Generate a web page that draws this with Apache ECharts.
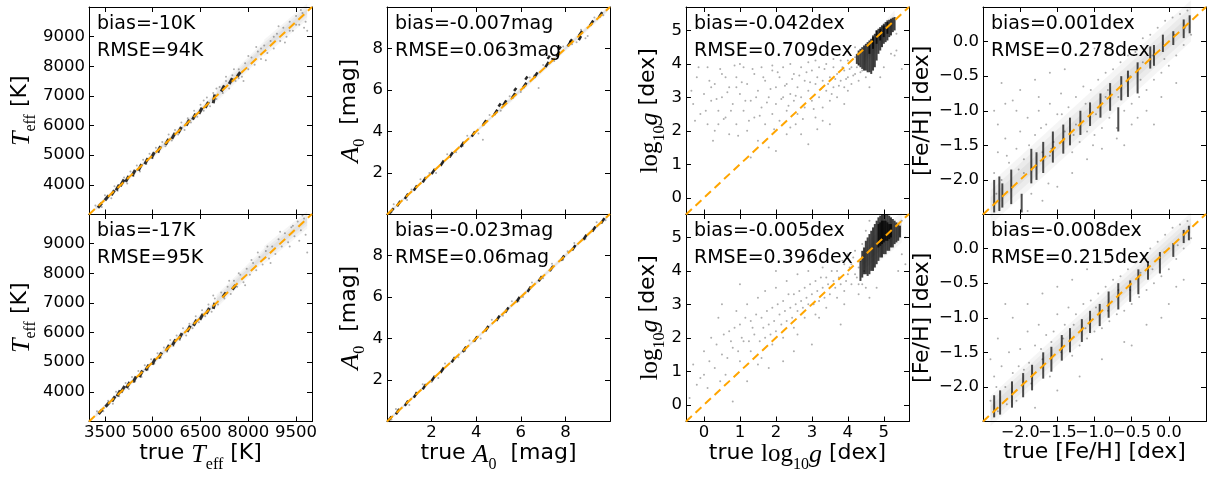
<!DOCTYPE html>
<html><head><meta charset="utf-8">
<script src="https://cdn.jsdelivr.net/npm/echarts@6/dist/echarts.min.js"></script>
<style>html,body{margin:0;padding:0;background:#fff}#c{width:1209px;height:477px}</style>
</head><body><div id="c"></div>
<script>
// ---------- tick labels ----------
const teffXTicks = [3500, 5000, 6500, 8000, 9500];
const teffYTicks = [4000, 5000, 6000, 7000, 8000, 9000];
const a0Ticks = [2, 4, 6, 8];
const loggTicks = [0, 1, 2, 3, 4, 5];
const fehTicks = [-2.0, -1.5, -1.0, -0.5, 0.0];

// ---------- statistics text ----------
const biasTop = ['-10K', '-0.007mag', '-0.042dex', '0.001dex'];
const rmseTop = ['94K', '0.063mag', '0.709dex', '0.278dex'];
const biasBot = ['-17K', '-0.023mag', '-0.005dex', '-0.008dex'];
const rmseBot = ['95K', '0.06mag', '0.396dex', '0.215dex'];

// ---------- Teff (true, predicted) ----------
// dense bands: [x1, y1, x2, y2, half-spread]
const teffTopCloud = [[3200,3200,5000,5000,90],[5000,5000,7000,7020,120],[7000,7020,8500,8620,230],[8500,8620,9850,9850,280]];
const teffBotCloud = [[3200,3200,5000,5000,90],[5000,5000,7000,7020,120],[7000,7050,8500,8620,230],[8500,8620,9850,9800,300]];
const teffTopStreaks = [[3280,3230,3400,3380],[3500,3480,3620,3640],[3700,3650,3800,3820],[3850,3820,3950,4000],[3980,3950,4100,4180],[4150,4100,4250,4300],[4350,4300,4450,4500],[4550,4480,4650,4700],[4750,4700,4850,4900],[4950,4900,5050,5100],[5150,5100,5250,5300],[5400,5350,5500,5550],[5600,5550,5700,5750],[5800,5750,5900,5950],[6050,6000,6150,6200],[6250,6200,6350,6400],[6450,6400,6550,6600],[6650,6600,6750,6800],[6900,6750,6950,7050],[7150,7150,7250,7350],[7400,7400,7500,7600],[7650,7650,7750,7800]];
const teffTopPts = [[3200,3300],[3400,3250],[3500,3650],[3700,3550],[3800,3950],[3900,3800],[4100,4250],[4200,4050],[4300,4450],[4400,4300],[4500,4650],[4600,4450],[4700,4850],[4800,4700],[4900,5050],[5000,4900],[5100,5250],[5200,5100],[5300,5450],[5400,5300],[5500,5700],[5600,5500],[5700,5850],[5800,5700],[5900,6100],[6000,5850],[6100,6250],[6200,6100],[6300,6500],[6400,6300],[6500,6700],[6600,6500],[6700,6950],[6800,6650],[6900,7100],[7000,6900],[7100,7300],[7200,7100],[7300,7500],[7400,7250],[7500,7700],[7600,7500],[7700,7900],[7800,7650],[7900,8100],[8000,7900],[8100,8300],[8200,8050],[8300,8500],[8400,8250],[8500,8700],[8600,8450],[8700,8850],[8800,8600],[8900,9100],[9000,8850],[9100,9300],[9200,9000],[9300,9500],[9400,9200],[9500,9700],[9600,9400],[9700,9800],[9800,9500],[9850,9200],[9300,9200],[8400,8600],[7000,7250],[6600,6850],[7700,7600],[8800,9000],[9500,9400],[7300,7650],[8000,8350],[7550,7900],[8250,8650],[8950,9350],[9650,9900],[7850,7500],[8550,8200],[9150,8800],[9750,9300]];
const teffBotStreaks = [[3300,3250,3420,3400],[3520,3500,3640,3650],[3720,3680,3820,3850],[3880,3850,3980,4050],[4000,3980,4120,4200],[4180,4130,4280,4330],[4380,4320,4480,4520],[4580,4500,4680,4720],[4780,4720,4880,4920],[4980,4920,5080,5120],[5180,5130,5280,5330],[5420,5380,5520,5580],[5620,5570,5720,5770],[5820,5780,5920,5980],[6080,6030,6180,6230],[6280,6230,6380,6430],[6480,6430,6580,6630],[6680,6630,6780,6830],[6900,6800,6950,7000],[7200,7200,7300,7350],[7500,7450,7600,7600]];
const teffBotPts = [[3250,3350],[3450,3350],[3600,3700],[3750,3600],[3850,4000],[3950,3850],[4150,4300],[4250,4100],[4350,4500],[4450,4350],[4550,4700],[4650,4500],[4750,4900],[4850,4750],[4950,5100],[5050,4950],[5150,5300],[5250,5150],[5350,5500],[5450,5350],[5550,5750],[5650,5550],[5750,5900],[5850,5750],[5950,6150],[6050,5900],[6150,6300],[6250,6150],[6350,6550],[6450,6350],[6550,6750],[6650,6550],[6750,6950],[6850,6700],[6950,7150],[7050,6950],[7150,7350],[7250,7150],[7350,7550],[7450,7300],[7550,7750],[7650,7550],[7750,7950],[7850,7700],[7950,8150],[8050,7950],[8150,8350],[8250,8100],[8350,8550],[8450,8300],[8550,8750],[8650,8500],[8750,8900],[8850,8650],[8950,9150],[9050,8900],[9150,9350],[9250,9050],[9350,9550],[9450,9250],[9550,9750],[9650,9450],[9750,9850],[9800,9300],[9600,9100],[8100,8450],[7700,8000],[6900,7250],[8600,8900],[9400,9600],[7400,7750],[8300,8700],[9000,9400],[9700,9950],[7900,7600],[8700,8350],[9300,8900],[9850,8700]];

// ---------- A0 (true, predicted) ----------
const a0TopCloud = [[0,0,5,5,0.1],[5,5,9.9,9.9,0.14]];
const a0BotCloud = [[0,0,5,5,0.1],[5,5,9.9,9.9,0.12]];
const a0TopStreaks = [[0.1,0.05,0.3,0.3],[0.45,0.4,0.6,0.65],[0.8,0.75,0.95,1.0],[1.2,1.15,1.35,1.4],[1.6,1.55,1.75,1.8],[2.0,1.95,2.15,2.2],[2.4,2.35,2.55,2.6],[2.8,2.75,2.95,3.0],[3.3,3.25,3.45,3.5],[3.8,3.75,3.95,4.0],[4.3,4.3,4.45,4.55],[4.8,4.8,4.95,5.05],[5.2,5.25,5.35,5.5],[5.6,5.6,5.75,5.85],[6.1,6.1,6.25,6.35],[6.6,6.6,6.75,6.85],[7.1,7.1,7.25,7.35],[7.6,7.6,7.75,7.85],[8.1,8.1,8.25,8.35],[8.6,8.6,8.75,8.85],[9.1,9.1,9.25,9.35],[9.5,9.5,9.65,9.75],[5.0,5.2,5.1,5.35],[5.7,5.95,5.8,6.1],[6.2,6.5,6.3,6.65],[7.2,7.5,7.3,7.65],[7.7,7.95,7.8,8.1],[8.2,8.3,8.3,8.45],[8.6,8.4,8.7,8.6]];
const a0TopPts = [[0.3,0.5],[0.9,0.7],[1.5,1.7],[2.2,2.0],[2.7,2.9],[3.1,3.0],[3.6,3.8],[4.1,3.9],[4.6,4.8],[5.1,5.0],[5.5,5.7],[6.0,5.9],[6.4,6.6],[6.8,6.1],[7.0,7.2],[7.5,7.4],[7.9,8.1],[8.3,8.2],[8.7,8.9],[9.0,8.6],[9.3,9.5],[9.7,9.6],[4.3,3.6],[8.5,8.3],[8.9,8.5],[0.2,0.1],[1.1,1.2],[1.9,2.0],[3.4,3.3],[6.6,6.7]];
const a0BotStreaks = [[0.05,0.0,0.2,0.25],[0.4,0.35,0.55,0.6],[0.8,0.75,0.95,1.0],[1.2,1.15,1.35,1.4],[1.6,1.55,1.75,1.8],[2.0,1.95,2.15,2.2],[2.4,2.35,2.55,2.6],[2.9,2.85,3.05,3.1],[3.4,3.35,3.55,3.6],[3.9,3.85,4.05,4.1],[4.4,4.35,4.55,4.6],[4.9,4.85,5.05,5.1],[5.3,5.25,5.45,5.5],[5.8,5.75,5.95,6.0],[6.3,6.25,6.45,6.5],[6.8,6.75,6.95,7.0],[7.3,7.25,7.45,7.5],[7.8,7.75,7.95,8.0],[8.3,8.25,8.45,8.5],[8.8,8.75,8.95,9.0],[9.2,9.15,9.35,9.4],[9.6,9.55,9.75,9.8]];
const a0BotPts = [[0.4,0.6],[1.0,0.8],[1.6,1.8],[2.3,2.1],[2.6,2.8],[3.2,3.1],[3.7,3.9],[4.2,4.0],[4.7,4.9],[5.2,5.1],[5.6,5.8],[6.1,6.0],[6.5,6.7],[7.0,6.9],[7.4,7.6],[7.9,7.8],[8.4,8.6],[8.9,8.8],[9.4,9.6],[9.8,9.7],[0.2,0.1],[1.3,1.4],[2.0,1.9],[3.5,3.4],[5.9,5.8],[8.1,8.2]];

// ---------- log g (true, predicted) ----------
const loggTopCloud = [[4.45,4.25,5.3,5.3,0.3]];
const loggBotCloud = [[4.4,4.3,5.5,5.3,0.45]];
const loggTopStreaks = [[4.25,4.0,4.25,4.3],[4.3,3.95,4.3,4.4],[4.35,3.9,4.35,4.45],[4.4,3.85,4.4,4.5],[4.45,3.8,4.45,4.55],[4.5,3.8,4.5,4.6],[4.55,3.75,4.55,4.65],[4.6,3.75,4.6,4.7],[4.65,3.7,4.65,4.75],[4.7,3.8,4.7,4.85],[4.75,3.9,4.75,4.9],[4.8,4.1,4.8,5.0],[4.85,4.3,4.85,5.05],[4.9,4.4,4.9,5.1],[4.95,4.5,4.95,5.15],[5.0,4.6,5.0,5.2],[5.05,4.65,5.05,5.25],[5.1,4.7,5.1,5.3],[5.15,4.8,5.15,5.32],[5.2,4.85,5.2,5.35],[5.25,4.95,5.25,5.38],[5.3,5.0,5.3,5.4],[4.8,4.6,4.8,5.0],[4.9,4.7,4.9,5.05],[5.0,4.8,5.0,5.15],[5.1,4.9,5.1,5.25],[4.7,4.45,4.7,4.8],[4.6,4.3,4.6,4.6]];
const loggTopPts = [[-0.3,2.8],[-0.2,3.6],[-0.1,2.5],[0.0,3.1],[0.1,2.2],[0.1,3.9],[0.2,2.9],[0.3,3.4],[0.3,2.0],[0.4,2.6],[0.5,3.7],[0.5,3.0],[0.6,2.4],[0.7,3.3],[0.7,1.9],[0.8,2.8],[0.9,3.6],[0.9,2.2],[1.0,3.1],[1.1,2.6],[1.1,3.9],[1.2,2.0],[1.2,3.4],[1.3,2.9],[1.4,3.7],[1.4,2.4],[1.5,3.2],[1.6,2.7],[1.6,3.9],[1.7,2.2],[1.7,3.5],[1.8,3.0],[1.9,2.5],[1.9,3.8],[2.0,3.3],[2.0,2.8],[2.1,3.6],[2.1,2.3],[2.2,3.0],[2.2,3.9],[2.3,2.6],[2.3,3.4],[2.4,3.1],[2.4,2.1],[2.5,3.7],[2.5,2.9],[2.6,3.3],[2.6,2.5],[2.7,3.9],[2.7,3.0],[2.8,3.5],[2.8,2.7],[2.9,3.2],[2.9,1.6],[3.0,3.8],[3.0,2.9],[3.1,3.4],[3.1,2.4],[3.2,3.0],[3.2,3.9],[3.3,3.5],[3.3,2.7],[3.4,3.2],[3.4,4.0],[3.5,3.6],[3.5,2.9],[3.6,3.3],[3.6,3.9],[3.7,3.0],[3.7,3.7],[3.8,3.5],[3.8,4.1],[3.9,3.3],[3.9,3.8],[4.0,3.6],[4.0,4.1],[4.1,3.4],[4.1,3.9],[4.2,3.7],[4.2,4.2],[4.3,3.5],[4.3,4.0],[4.4,3.8],[2.0,1.4],[1.5,1.7],[3.5,2.2],[0.2,3.3],[1.0,4.0],[2.4,4.0],[3.1,4.1],[0.6,3.6],[4.2,4.5],[4.0,3.2],[4.6,3.3],[4.5,3.6],[5.0,3.9],[4.9,3.6],[5.2,4.3],[5.35,4.9],[5.35,4.4],[5.3,4.25],[5.5,3.85],[-0.35,3.2],[-0.25,2.3],[-0.15,3.9],[0.05,2.6],[0.15,3.5],[0.25,1.7],[0.35,2.95],[0.45,3.85],[0.55,2.35],[0.65,3.15],[0.75,2.6],[0.85,3.95],[0.95,1.85],[1.05,3.45],[1.15,2.9],[1.25,2.3],[1.35,3.85],[1.45,3.0],[1.55,2.45],[1.65,3.6],[1.75,2.85],[1.85,3.25],[1.95,2.05],[2.05,3.75],[2.15,2.95],[2.25,3.35],[2.35,2.75],[2.45,3.55],[2.55,3.05],[2.65,3.65],[2.75,2.35],[2.85,3.75],[2.95,3.45],[3.05,2.65],[3.15,3.6],[3.25,3.25],[3.35,3.85],[3.45,3.4],[3.55,3.1],[3.65,3.55],[3.75,3.35],[3.85,3.9],[3.95,3.55],[4.05,3.85],[4.15,3.65],[4.25,3.9],[4.35,3.75],[2.3,1.9],[1.8,1.5],[3.3,2.3],[2.7,1.9],[3.9,2.8],[0.9,3.3],[1.9,3.95],[2.9,4.05],[3.6,4.15],[0.4,2.2],[1.3,1.2],[2.55,2.2],[3.15,2.05]];
const loggBotStreaks = [[4.35,3.7,4.35,4.3],[4.4,3.8,4.4,4.6],[4.45,3.9,4.45,4.7],[4.5,3.9,4.5,4.9],[4.55,3.85,4.55,5.0],[4.6,3.9,4.6,5.1],[4.65,4.0,4.65,5.2],[4.7,4.0,4.7,5.3],[4.75,4.1,4.75,5.4],[4.8,4.2,4.8,5.5],[4.85,4.3,4.85,5.6],[4.9,4.4,4.9,5.65],[4.95,4.4,4.95,5.7],[5.0,4.5,5.0,5.7],[5.05,4.5,5.05,5.7],[5.1,4.6,5.1,5.7],[5.15,4.6,5.15,5.65],[5.2,4.7,5.2,5.6],[5.25,4.7,5.25,5.55],[5.3,4.8,5.3,5.5],[5.35,4.85,5.35,5.45],[5.4,4.9,5.4,5.4],[5.45,5.0,5.45,5.35],[4.85,4.7,4.85,5.4],[4.9,4.75,4.9,5.45],[4.95,4.8,4.95,5.5],[5.0,4.85,5.0,5.5],[5.05,4.9,5.05,5.5],[5.1,4.9,5.1,5.45],[5.15,4.95,5.15,5.4],[5.2,5.0,5.2,5.4]];
const loggBotPts = [[-0.4,0.2],[-0.3,1.2],[-0.1,0.8],[0.0,1.6],[0.1,0.5],[0.2,2.0],[0.3,1.1],[0.4,2.6],[0.5,1.5],[0.6,0.9],[0.7,2.2],[0.8,1.7],[0.9,2.8],[1.0,1.3],[1.0,2.4],[1.1,1.9],[1.2,3.0],[1.3,1.6],[1.3,2.5],[1.4,2.1],[1.5,3.2],[1.5,1.2],[1.6,2.6],[1.7,2.0],[1.7,3.4],[1.8,2.4],[1.9,1.8],[1.9,2.9],[2.0,2.2],[2.0,3.5],[2.1,2.7],[2.2,2.0],[2.2,3.1],[2.3,2.5],[2.3,3.7],[2.4,2.9],[2.5,2.3],[2.5,3.3],[2.6,2.8],[2.6,3.9],[2.7,3.1],[2.8,2.6],[2.8,3.5],[2.9,3.0],[2.9,4.0],[3.0,3.3],[3.1,2.7],[3.1,3.7],[3.2,3.1],[3.3,3.5],[3.3,4.1],[3.4,2.9],[3.4,3.8],[3.5,3.3],[3.6,3.7],[3.6,4.3],[3.7,3.2],[3.7,4.0],[3.8,3.6],[3.9,4.2],[3.9,3.4],[4.0,3.9],[4.0,4.5],[4.1,3.6],[4.1,4.2],[4.2,3.9],[4.2,4.6],[4.3,4.1],[4.4,3.6],[4.4,4.4],[1.2,0.7],[2.5,1.6],[3.8,2.4],[0.5,3.0],[1.0,3.6],[2.0,4.0],[4.6,3.2],[4.8,3.5],[5.4,4.0],[5.5,4.5],[3.0,1.8],[0.8,0.1],[1.8,1.1],[2.2,1.3],[4.5,5.2],[4.4,4.8],[5.6,5.0],[5.5,5.5],[4.6,5.5],[5.6,4.2],[4.3,3.3],[4.5,3.5],[-0.2,0.6],[0.0,0.9],[0.15,1.3],[0.35,1.8],[0.45,0.7],[0.55,2.1],[0.65,1.4],[0.75,1.9],[0.85,2.3],[0.95,1.6],[1.05,2.0],[1.15,2.6],[1.25,1.9],[1.35,2.3],[1.45,2.7],[1.55,1.9],[1.65,2.3],[1.75,2.8],[1.85,2.1],[1.95,2.5],[2.05,3.0],[2.15,2.4],[2.25,2.8],[2.35,3.3],[2.45,2.6],[2.55,3.0],[2.65,3.4],[2.75,2.9],[2.85,3.2],[2.95,3.6],[3.05,3.0],[3.15,3.4],[3.25,3.8],[3.35,3.2],[3.45,3.6],[3.55,4.0],[3.65,3.5],[3.75,3.8],[3.85,4.3],[3.95,3.7],[4.05,4.1],[4.15,4.4],[4.25,3.8],[4.35,4.3],[4.45,4.0],[2.6,2.1],[3.2,2.6],[1.6,1.4],[3.9,3.0],[4.3,3.6]];

// ---------- [Fe/H] (true, predicted) ----------
const fehTopCloud = [[-2.4,-2.35,0.3,0.3,0.3]];
const fehBotCloud = [[-2.4,-2.35,0.3,0.3,0.22]];
const fehTopStreaks = [[-2.35,-2.47,-2.35,-2.0],[-2.28,-2.45,-2.28,-1.95],[-2.24,-2.40,-2.24,-2.05],[-2.12,-2.35,-2.12,-1.85],[-1.98,-2.47,-1.98,-2.2],[-1.85,-2.05,-1.85,-1.55],[-1.78,-2.0,-1.78,-1.6],[-1.69,-1.9,-1.69,-1.45],[-1.56,-1.75,-1.56,-1.3],[-1.42,-1.62,-1.42,-1.2],[-1.33,-1.5,-1.33,-1.1],[-1.19,-1.35,-1.19,-1.0],[-1.06,-1.22,-1.06,-0.88],[-0.92,-1.1,-0.92,-0.75],[-0.79,-1.0,-0.79,-0.6],[-0.68,-1.3,-0.68,-0.95],[-0.64,-0.85,-0.64,-0.5],[-0.55,-0.8,-0.55,-0.42],[-0.42,-0.75,-0.42,-0.3],[-0.25,-0.39,-0.25,-0.07],[-0.20,-0.35,-0.20,-0.05],[-0.08,-0.15,-0.08,0.1],[0.06,-0.05,0.06,0.15],[0.20,0.05,0.20,0.32],[0.28,0.12,0.28,0.38]];
const fehTopPts = [[-2.35,-1.9],[-2.3,-1.6],[-2.25,-2.0],[-2.2,-1.4],[-2.15,-1.75],[-2.1,-0.85],[-2.05,-1.55],[-2.0,-1.3],[-1.95,-1.7],[-1.9,-1.1],[-1.85,-2.2],[-1.8,-1.35],[-1.75,-1.0],[-1.7,-1.6],[-1.65,-1.2],[-1.6,-0.9],[-1.55,-1.45],[-1.5,-1.05],[-1.45,-0.75],[-1.4,-1.3],[-1.35,-0.95],[-1.3,-1.6],[-1.25,-0.8],[-1.2,-1.45],[-1.15,-0.65],[-1.1,-1.3],[-1.05,-0.7],[-1.0,-1.35],[-0.95,-0.55],[-0.9,-1.25],[-0.85,-0.45],[-0.8,-1.1],[-0.75,-0.4],[-0.7,-1.25],[-0.65,-0.3],[-0.6,-1.0],[-0.55,-0.2],[-0.5,-0.9],[-0.45,-0.15],[-0.4,-0.8],[-0.35,0.05],[-0.3,-0.7],[-0.25,0.1],[-0.2,-0.55],[-0.15,0.2],[-0.1,-0.45],[-0.05,0.3],[0.0,-0.35],[0.05,0.35],[0.1,-0.2],[0.15,0.4],[0.2,-0.05],[0.25,0.45],[0.3,0.1],[-1.9,-2.45],[-1.7,-2.3],[-1.5,-2.1],[-1.3,-1.9],[-1.1,-1.7],[-0.9,-1.55],[-0.7,-1.4],[-0.5,-1.2],[-0.3,-1.0],[-0.1,-0.8],[0.1,-0.6],[-0.6,-1.5],[-0.2,-1.2],[-2.3,-1.2],[-2.2,-0.9],[-2.0,-0.7],[-1.8,-0.55],[-1.6,-0.45],[-1.4,-0.4],[-1.2,-0.2],[-1.0,-0.1],[-2.35,-1.0],[-2.05,-1.0],[-1.75,-0.8],[-2.25,-0.6],[-2.1,-2.1],[-1.95,-1.9],[-1.6,-1.65],[-1.25,-1.2],[-0.85,-0.8],[-0.35,-0.3],[-2.32,-2.2],[-2.18,-1.65],[-2.02,-1.85],[-1.88,-1.5],[-1.72,-1.25],[-1.58,-1.55],[-1.44,-1.05],[-1.28,-1.35],[-1.12,-0.9],[-0.98,-1.05],[-0.82,-0.7],[-0.68,-0.8],[-0.52,-0.5],[-0.38,-0.55],[-0.22,-0.2],[-0.06,-0.25],[0.08,0.1],[0.22,0.2],[-1.62,-2.05],[-1.02,-1.5],[-0.42,-1.1]];
const fehBotStreaks = [[-2.35,-2.44,-2.35,-2.12],[-2.27,-2.40,-2.27,-2.05],[-2.11,-2.30,-2.11,-1.92],[-1.96,-2.15,-1.96,-1.8],[-1.84,-2.05,-1.84,-1.68],[-1.69,-1.88,-1.69,-1.5],[-1.58,-1.78,-1.58,-1.42],[-1.44,-1.62,-1.44,-1.25],[-1.33,-1.50,-1.33,-1.15],[-1.17,-1.35,-1.17,-1.02],[-1.06,-1.22,-1.06,-0.9],[-0.93,-1.12,-0.93,-0.8],[-0.81,-1.0,-0.81,-0.62],[-0.68,-0.88,-0.68,-0.5],[-0.52,-0.77,-0.52,-0.46],[-0.41,-0.66,-0.41,-0.3],[-0.28,-0.45,-0.28,-0.18],[-0.12,-0.36,-0.12,-0.05],[0.06,-0.12,0.06,0.08],[0.20,0.08,0.20,0.27],[0.27,0.12,0.27,0.33]];
const fehBotPts = [[-2.4,-2.2],[-2.35,-1.85],[-2.3,-2.35],[-2.25,-1.7],[-2.2,-2.0],[-2.15,-1.5],[-2.1,-1.8],[-2.05,-2.2],[-2.0,-1.45],[-1.95,-1.75],[-1.9,-1.2],[-1.85,-1.95],[-1.8,-1.4],[-1.75,-1.1],[-1.7,-1.6],[-1.65,-1.25],[-1.6,-1.85],[-1.55,-1.2],[-1.5,-0.95],[-1.45,-1.5],[-1.4,-1.1],[-1.35,-0.85],[-1.3,-1.55],[-1.25,-0.95],[-1.2,-1.4],[-1.15,-0.8],[-1.1,-1.3],[-1.05,-0.75],[-1.0,-1.2],[-0.95,-0.65],[-0.9,-1.15],[-0.85,-0.55],[-0.8,-1.05],[-0.75,-0.45],[-0.7,-0.95],[-0.65,-0.4],[-0.6,-0.9],[-0.55,-0.3],[-0.5,-0.8],[-0.45,-0.2],[-0.4,-0.7],[-0.35,-0.1],[-0.3,-0.6],[-0.25,0.0],[-0.2,-0.5],[-0.15,0.1],[-0.1,-0.4],[-0.05,0.2],[0.0,-0.3],[0.05,0.3],[0.1,-0.15],[0.15,0.35],[0.2,0.0],[0.25,0.4],[0.3,0.15],[-2.3,-1.3],[-2.1,-1.0],[-1.9,-0.8],[-1.7,-0.65],[-1.5,-0.55],[-2.2,-0.8],[-1.3,-0.45],[-1.1,-0.3],[-0.9,-0.2],[-2.4,-1.6],[-1.8,-2.3],[-1.5,-2.05],[-1.2,-1.85],[-0.9,-1.6],[-0.6,-1.35],[-0.3,-1.1],[0.0,-0.8],[0.1,-0.55],[-0.5,-1.4],[-0.1,-1.0],[0.2,-0.45],[-2.32,-2.0],[-2.18,-2.25],[-2.02,-1.7],[-1.88,-1.65],[-1.72,-1.45],[-1.58,-1.35],[-1.42,-1.3],[-1.28,-1.1],[-1.12,-1.15],[-0.98,-0.85],[-0.82,-0.9],[-0.68,-0.6],[-0.52,-0.6],[-0.38,-0.35],[-0.22,-0.3],[-0.06,-0.05],[0.12,0.05],[0.24,0.25]];

// ---------- layout / style ----------
const colLeft = [89, 387, 686, 983];
const rowTop = [7, 214];
const W = 223, H = 207.5;

const rich = {
  n: {fontSize: 22, fontFamily: 'DejaVu Sans', lineHeight: 26, verticalAlign: 'top', color: '#000'},
  it: {fontSize: 26, fontFamily: 'Liberation Serif', fontStyle: 'italic', lineHeight: 26, verticalAlign: 'top', color: '#000'},
  rm: {fontSize: 25, fontFamily: 'Liberation Serif', lineHeight: 26, verticalAlign: 'top', color: '#000'},
  sub: {fontSize: 16, fontFamily: 'Liberation Serif', lineHeight: 16, padding: [14, 0, 0, 0], verticalAlign: 'top', color: '#000'}
};
const fmtInt = v => String(v);
const fmtFeh = v => v.toFixed(1).replace('-', '\u2212');

const kinds = [
  {range: [3000, 10000], xt: teffXTicks, yt: teffYTicks, fmt: fmtInt, xfs: 16.5,
   xname: '{n|true }{it|T}{sub|eff}{n| [K]}', yname: '{it|T}{sub|eff}{n| [K]}', ygap: 52, lw: 3, sa: 0.8,
   clouds: [teffTopCloud, teffBotCloud], streaks: [teffTopStreaks, teffBotStreaks], pts: [teffTopPts, teffBotPts]},
  {range: [0, 10], xt: a0Ticks, yt: a0Ticks, fmt: fmtInt, xfs: 16.5,
   xname: '{n|true }{it|A}{sub|0}{n|  [mag]}', yname: '{it|A}{sub|0}{n|  [mag]}', ygap: 23, lw: 2.5, sa: 0.85,
   clouds: [a0TopCloud, a0BotCloud], streaks: [a0TopStreaks, a0BotStreaks], pts: [a0TopPts, a0BotPts]},
  {range: [-0.5, 5.7], xt: loggTicks, yt: loggTicks, fmt: fmtInt, xfs: 16.5,
   xname: '{n|true }{rm|log}{sub|10}{it|g}{n| [dex]}', yname: '{rm|log}{sub|10}{it|g}{n| [dex]}', ygap: 22, lw: 2, sa: 0.75,
   clouds: [loggTopCloud, loggBotCloud], streaks: [loggTopStreaks, loggBotStreaks], pts: [loggTopPts, loggBotPts]},
  {range: [-2.5, 0.5], xt: fehTicks, yt: fehTicks, fmt: fmtFeh, xfs: 16,
   xname: '{n|true [Fe/H] [dex]}', yname: '{n|[Fe/H] [dex]}', ygap: 46, lw: 2, sa: 0.7,
   clouds: [fehTopCloud, fehBotCloud], streaks: [fehTopStreaks, fehBotStreaks], pts: [fehTopPts, fehBotPts]}
];

const grid = [], xAxis = [], yAxis = [], series = [], graphic = [];
const lineC = '#000';
const labelStyle = {fontSize: 16.5, fontFamily: 'DejaVu Sans', color: '#000', hideOverlap: false, interval: 0};
const cloudScales = [1, 0.66, 0.33];

for (let r = 0; r < 2; r++) {
  for (let c = 0; c < 4; c++) {
    const p = r * 4 + c;
    const k = kinds[c];
    grid.push({left: colLeft[c], top: rowTop[r], width: W, height: H});
    const base = {type: 'value', gridIndex: p, min: k.range[0], max: k.range[1],
      splitLine: {show: false},
      axisLine: {show: true, onZero: false, lineStyle: {color: lineC, width: 1}}};
    // an empty guard label at the axis min keeps the first real label out of the min/max overlap check
    const lo = k.range[0];
    const xLabelVals = [lo].concat(k.xt);
    const xFmt = v => (v === lo ? '' : k.fmt(v));
    xAxis.push(Object.assign({}, base, {position: 'bottom',
      axisTick: {show: true, inside: true, length: 5, customValues: k.xt, lineStyle: {color: lineC}},
      axisLabel: Object.assign({}, labelStyle, {show: r === 1, customValues: xLabelVals, formatter: xFmt, margin: 3, fontSize: k.xfs}),
      name: r === 1 ? k.xname : '', nameLocation: 'middle', nameGap: 19,
      nameTextStyle: {fontSize: 22, fontFamily: 'DejaVu Sans', color: '#000', rich: rich}}));
    xAxis.push(Object.assign({}, base, {position: 'top',
      axisTick: {show: true, inside: true, length: 5, customValues: k.xt, lineStyle: {color: lineC}},
      axisLabel: {show: false}}));
    yAxis.push(Object.assign({}, base, {position: 'left',
      axisTick: {show: true, inside: true, length: 5, customValues: k.yt, lineStyle: {color: lineC}},
      axisLabel: Object.assign({}, labelStyle, {show: true, customValues: k.yt, formatter: k.fmt, margin: 4, showMinLabel: true, showMaxLabel: true}),
      name: k.yname, nameLocation: 'middle', nameGap: k.ygap, nameRotate: 90,
      nameTextStyle: {fontSize: 22, fontFamily: 'DejaVu Sans', color: '#000', rich: rich}}));
    yAxis.push(Object.assign({}, base, {position: 'right',
      axisTick: {show: true, inside: true, length: 5, customValues: k.yt, lineStyle: {color: lineC}},
      axisLabel: {show: false}}));

    const lw = k.lw, sa = k.sa;
    series.push({type: 'custom', xAxisIndex: 2 * p, yAxisIndex: 2 * p, data: k.clouds[r],
      encode: {x: [0, 2], y: [1, 3]}, silent: true, z: 1,
      renderItem: (params, api) => {
        const children = cloudScales.map(f => {
          const s = api.value(4) * f;
          const a = api.coord([api.value(0), api.value(1) - s]);
          const b = api.coord([api.value(2), api.value(3) - s]);
          const cc = api.coord([api.value(2), api.value(3) + s]);
          const d = api.coord([api.value(0), api.value(1) + s]);
          return {type: 'polygon', shape: {points: [a, b, cc, d]}, style: {fill: 'rgba(0,0,0,0.04)'}};
        });
        return {type: 'group', children};
      }});
    series.push({type: 'scatter', xAxisIndex: 2 * p, yAxisIndex: 2 * p, data: k.pts[r],
      symbolSize: 2, itemStyle: {color: 'rgba(0,0,0,0.4)'}, silent: true, z: 2});
    series.push({type: 'custom', xAxisIndex: 2 * p, yAxisIndex: 2 * p, data: k.streaks[r],
      encode: {x: [0, 2], y: [1, 3]}, silent: true, z: 3,
      renderItem: (params, api) => {
        const a = api.coord([api.value(0), api.value(1)]);
        const b = api.coord([api.value(2), api.value(3)]);
        return {type: 'line', shape: {x1: a[0], y1: a[1], x2: b[0], y2: b[1]},
          style: {stroke: 'rgba(0,0,0,' + sa + ')', lineWidth: lw}};
      }});
    series.push({type: 'line', xAxisIndex: 2 * p, yAxisIndex: 2 * p,
      data: [[k.range[0], k.range[0]], [k.range[1], k.range[1]]],
      symbol: 'none', silent: true, z: 5,
      lineStyle: {color: '#FFA500', width: 2, type: [8, 5]}});

    const bias = r === 0 ? biasTop[c] : biasBot[c];
    const rmse = r === 0 ? rmseTop[c] : rmseBot[c];
    graphic.push({type: 'text', left: colLeft[c] + 8, top: rowTop[r] + 8, z: 10,
      style: {text: 'bias=' + bias, fontSize: 19, fontFamily: 'DejaVu Sans', fill: '#000'}});
    graphic.push({type: 'text', left: colLeft[c] + 8, top: rowTop[r] + 35, z: 10,
      style: {text: 'RMSE=' + rmse, fontSize: 19, fontFamily: 'DejaVu Sans', fill: '#000'}});
  }
}

const chart = echarts.init(document.getElementById('c'), null, {renderer: 'canvas'});
chart.setOption({animation: false, backgroundColor: '#fff', grid, xAxis, yAxis, series, graphic});
</script>
</body></html>
